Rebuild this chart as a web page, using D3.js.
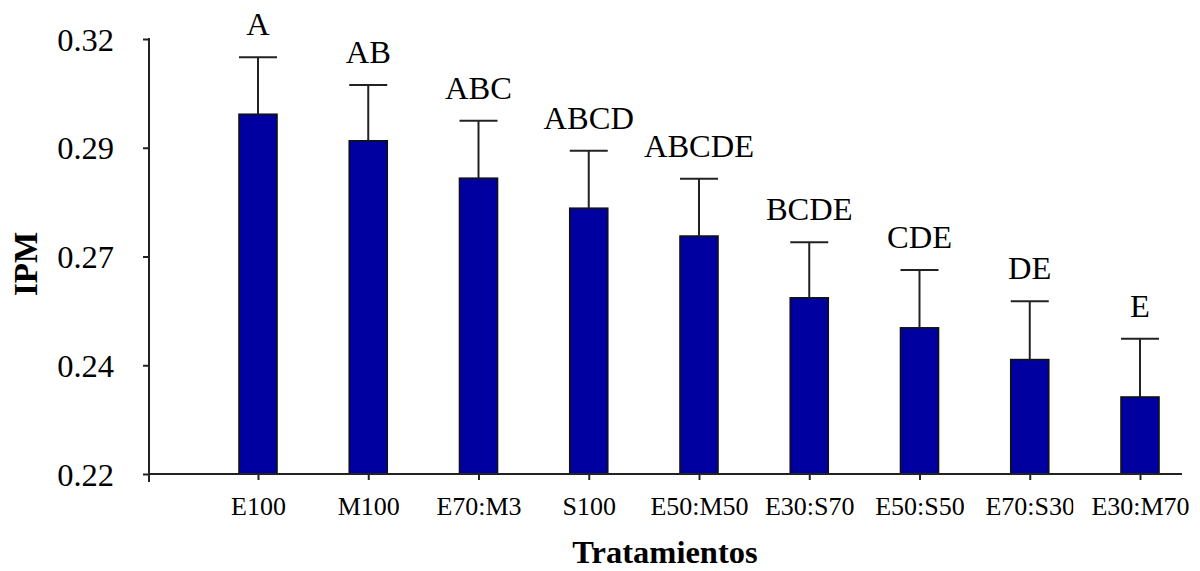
<!DOCTYPE html>
<html>
<head>
<meta charset="utf-8">
<script src="https://cdn.jsdelivr.net/npm/d3@7"></script>
<style>
  html, body { margin: 0; padding: 0; background: #ffffff; }
  svg { display: block; }
  text { font-family: "Liberation Serif", "Times New Roman", "DejaVu Serif", serif; fill: #000; }
</style>
</head>
<body>
<svg id="chart" width="1200" height="571"></svg>
<script>
// ---- data ----
const categories = ["E100", "M100", "E70:M30", "S100", "E50:M50", "E30:S70", "E50:S50", "E70:S30", "E30:M70"];
const categoryLabels = ["E100", "M100", "E70:M3", "S100", "E50:M50", "E30:S70", "E50:S50", "E70:S30", "E30:M70"];
const means = [0.3027, 0.2966, 0.2880, 0.2811, 0.2747, 0.2605, 0.2536, 0.2463, 0.2377];
const errorTops = [0.3158, 0.3094, 0.3012, 0.2943, 0.2879, 0.2733, 0.2669, 0.2597, 0.2511];
const groupLetters = ["A", "AB", "ABC", "ABCD", "ABCDE", "BCDE", "CDE", "DE", "E"];
const yTickValues = [0.22, 0.245, 0.27, 0.295, 0.32];
const yTickLabels = ["0.22", "0.24", "0.27", "0.29", "0.32"];
const xTitle = "Tratamientos";
const yTitle = "IPM";

// ---- layout ----
const svg = d3.select("#chart");
const axisLeftX = 149, axisRightX = 1182, plotTop = 39, plotBottom = 474;

const y = d3.scaleLinear().domain([0.22, 0.32]).range([plotBottom, plotTop]);
const x = d3.scalePoint().domain(categories).range([258, 1140]).padding(0);
const barW = 38;

const data = categories.map((c, i) => ({ c, label: categoryLabels[i], m: means[i], e: errorTops[i], g: groupLetters[i] }));

// bars
svg.append("g").selectAll("rect").data(data).join("rect")
  .attr("x", d => x(d.c) - barW / 2)
  .attr("y", d => y(d.m))
  .attr("width", barW)
  .attr("height", d => y(0.22) - y(d.m))
  .attr("fill", "#0000a0")
  .attr("stroke", "#111")
  .attr("stroke-width", 1.6);

// error bars
const eb = svg.append("g").attr("stroke", "#222").attr("stroke-width", 2);
eb.selectAll("line.v").data(data).join("line").attr("class", "v")
  .attr("x1", d => x(d.c)).attr("x2", d => x(d.c))
  .attr("y1", d => y(d.m)).attr("y2", d => y(d.e));
eb.selectAll("line.cap").data(data).join("line").attr("class", "cap")
  .attr("x1", d => x(d.c) - barW / 2).attr("x2", d => x(d.c) + barW / 2)
  .attr("y1", d => y(d.e)).attr("y2", d => y(d.e));

// group letters
svg.append("g").selectAll("text").data(data).join("text")
  .attr("x", d => x(d.c))
  .attr("y", d => y(d.e) - 22)
  .attr("text-anchor", "middle")
  .attr("font-size", 32.5)
  .text(d => d.g);

// y axis
const yAxis = d3.axisLeft(y).tickValues(yTickValues)
  .tickFormat((d, i) => yTickLabels[i]).tickSize(6).tickSizeOuter(0).tickPadding(29);
const gy = svg.append("g").attr("transform", `translate(${axisLeftX},0)`).call(yAxis);
gy.select(".domain").remove();
gy.selectAll(".tick line").attr("stroke", "#222").attr("stroke-width", 2);
gy.selectAll(".tick text").attr("font-size", 32.5).attr("font-family", "Liberation Serif, Times New Roman, serif").attr("fill", "#000").attr("dy", "0.34em");
svg.append("line").attr("x1", axisLeftX).attr("x2", axisLeftX)
  .attr("y1", plotTop - 1).attr("y2", plotBottom + 8)
  .attr("stroke", "#222").attr("stroke-width", 2);

// x axis
const xAxis = d3.axisBottom(x).tickFormat((d, i) => categoryLabels[i]).tickSize(6).tickSizeOuter(0).tickPadding(17);
const gx = svg.append("g").attr("transform", `translate(0,${plotBottom})`).call(xAxis);
gx.select(".domain").remove();
gx.selectAll(".tick line").attr("stroke", "#222").attr("stroke-width", 2);
gx.selectAll(".tick text").attr("font-size", 26).attr("font-family", "Liberation Serif, Times New Roman, serif").attr("fill", "#000");
svg.append("line").attr("x1", axisLeftX - 1).attr("x2", axisRightX)
  .attr("y1", plotBottom).attr("y2", plotBottom)
  .attr("stroke", "#222").attr("stroke-width", 2);

// truncated label clip (E70:S30 shown cut off at its right edge)
const defs = svg.append("defs");
defs.append("clipPath").attr("id", "clipS30").append("rect")
  .attr("x", -60).attr("y", -5).attr("width", 103).attr("height", 60);
gx.selectAll(".tick").filter(d => d === "E70:S30").select("text").attr("clip-path", "url(#clipS30)");

// axis titles
svg.append("text").attr("x", 665).attr("y", 563).attr("text-anchor", "middle")
  .attr("font-size", 32.5).attr("font-weight", "bold").text(xTitle);
svg.append("text").attr("transform", "translate(37,264) rotate(-90)").attr("text-anchor", "middle")
  .attr("font-size", 33).attr("font-weight", "bold").text(yTitle);
</script>
</body>
</html>
